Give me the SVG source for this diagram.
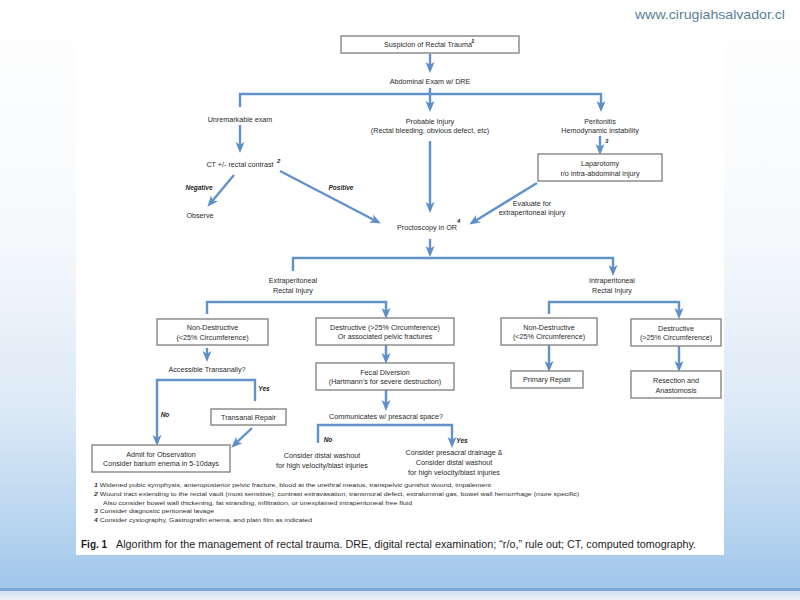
<svg xmlns="http://www.w3.org/2000/svg" width="800" height="600" viewBox="0 0 800 600">
<defs>
<linearGradient id="bg" x1="0" y1="0" x2="0" y2="1">
<stop offset="0" stop-color="#ffffff"/>
<stop offset="0.4" stop-color="#f6f9fc"/>
<stop offset="0.7" stop-color="#dce9f6"/>
<stop offset="0.9" stop-color="#b6d4ef"/>
<stop offset="1" stop-color="#a0c6ea"/>
</linearGradient>
<linearGradient id="foot" x1="0" y1="0" x2="0" y2="1">
<stop offset="0" stop-color="#cfe0f0"/>
<stop offset="1" stop-color="#eef3f8"/>
</linearGradient>
<marker id="ah" markerUnits="userSpaceOnUse" markerWidth="11" markerHeight="11" refX="6" refY="5.5" orient="auto">
<path d="M0,1 L11,5.5 L0,10 L2.8,5.5 z" fill="#5f8fc8"/>
</marker>
<style>
.c{fill:none;stroke:#6292ca;stroke-width:2.4;marker-end:url(#ah)}
.b{fill:#ffffff;stroke:#858585;stroke-width:1.4}
.t{font-family:"Liberation Sans",Arial,sans-serif;font-size:7.2px;fill:#2a2a2a;text-anchor:middle}
.bi{font-family:"Liberation Sans",Arial,sans-serif;font-size:6.5px;fill:#1e1e1e;font-weight:bold;font-style:italic;text-anchor:middle}
.sup{font-family:"Liberation Sans",Arial,sans-serif;font-size:6px;fill:#1e1e1e;font-weight:bold;font-style:italic}
.fn{font-family:"Liberation Sans",Arial,sans-serif;font-size:6px;fill:#2e2e2e}
.cap{font-family:"Liberation Sans",Arial,sans-serif;font-size:10px;fill:#1e1e1e}
</style>
</defs>
<rect x="0" y="0" width="800" height="588" fill="url(#bg)"/>
<rect x="0" y="588" width="800" height="3" fill="#7aa6d4"/>
<rect x="0" y="591" width="800" height="9" fill="url(#foot)"/>
<rect x="76" y="26" width="648" height="529" fill="#ffffff"/>
<text x="785" y="19" text-anchor="end" font-family="Liberation Sans, Arial, sans-serif" font-size="13" fill="#5b7e98" textLength="150" lengthAdjust="spacingAndGlyphs">www.cirugiahsalvador.cl</text>

<g id="connectors">
<path class="c" d="M430,54 V68"/>
<path class="c" d="M240,107 V94 H601 V107"/>
<path class="c" d="M430,88 V107"/>
<path class="c" d="M240,125 V148"/>
<path class="c" d="M600,136 V150"/>
<path class="c" d="M430,141 V208"/>
<path class="c" d="M234,175 L210.6,203"/>
<path class="c" d="M280,171 L376.5,221.2"/>
<path class="c" d="M537,183 L473.4,221.9"/>
<path class="c" d="M430,239 V252"/>
<path class="c" d="M293,271 V258 H613 V271"/>
<path class="c" d="M207,314 V302 H386 V314"/>
<path class="c" d="M549,314 V302 H679 V314"/>
<path class="c" d="M549,345 V367"/>
<path class="c" d="M679,346 V367"/>
<path class="c" d="M207,348 V357"/>
<path class="c" d="M255,401 V380 H157 V441"/>
<path class="c" d="M252,428 L234.9,444.2"/>
<path class="c" d="M386,345 V359"/>
<path class="c" d="M386,390 V406"/>
<path class="c" d="M318,443 V425 H452 V443"/>
</g>

<g id="n-suspicion">
<rect class="b" x="341" y="36" width="178" height="17"/>
<text class="t" x="428" y="47">Suspicion of Rectal Trauma</text>
<text class="sup" x="471" y="43">1</text>
</g>
<g id="n-abdominal"><text class="t" x="430" y="84">Abdominal Exam w/ DRE</text></g>
<g id="n-unremarkable"><text class="t" x="240" y="122">Unremarkable exam</text></g>
<g id="n-probable">
<text class="t" x="430" y="123.5">Probable Injury</text>
<text class="t" x="430" y="133">(Rectal bleeding, obvious defect, etc)</text>
</g>
<g id="n-peritonitis">
<text class="t" x="600" y="123.5">Peritonitis</text>
<text class="t" x="600" y="133">Hemodynamic instability</text>
<text class="sup" x="605" y="143">3</text>
</g>
<g id="n-ct">
<text class="t" x="240" y="167">CT +/- rectal contrast</text>
<text class="sup" x="277" y="163">2</text>
</g>
<g id="n-laparotomy">
<rect class="b" x="538" y="154" width="124" height="27"/>
<text class="t" x="600" y="166">Laparotomy</text>
<text class="t" x="600" y="175.5">r/o intra-abdominal injury</text>
</g>
<g id="l-negative"><text class="bi" x="199" y="189.5">Negative</text></g>
<g id="l-positive"><text class="bi" x="341" y="189.5">Positive</text></g>
<g id="n-observe"><text class="t" x="200" y="218">Observe</text></g>
<g id="l-evaluate">
<text class="t" x="532" y="205.5">Evaluate for</text>
<text class="t" x="532" y="215">extraperitoneal injury</text>
</g>
<g id="n-proctoscopy">
<text class="t" x="427" y="229.5">Proctoscopy in OR</text>
<text class="sup" x="457" y="223">4</text>
</g>
<g id="n-extra">
<text class="t" x="293" y="283">Extraperitoneal</text>
<text class="t" x="293" y="292.5">Rectal Injury</text>
</g>
<g id="n-intra">
<text class="t" x="612" y="283">Intraperitoneal</text>
<text class="t" x="612" y="292.5">Rectal Injury</text>
</g>
<g id="n-nd-left">
<rect class="b" x="157" y="319" width="111" height="26"/>
<text class="t" x="212.5" y="330">Non-Destructive</text>
<text class="t" x="212.5" y="339.5">(&lt;25% Circumference)</text>
</g>
<g id="n-d-left">
<rect class="b" x="316" y="318" width="138" height="27"/>
<text class="t" x="385" y="329.5">Destructive (&gt;25% Circumference)</text>
<text class="t" x="385" y="339">Or associated pelvic fractures</text>
</g>
<g id="n-nd-right">
<rect class="b" x="501" y="318" width="96" height="27"/>
<text class="t" x="549" y="329.5">Non-Destructive</text>
<text class="t" x="549" y="339">(&lt;25% Circumference)</text>
</g>
<g id="n-d-right">
<rect class="b" x="631" y="319" width="90" height="27"/>
<text class="t" x="676" y="330.5">Destructive</text>
<text class="t" x="676" y="340">(&gt;25% Circumference)</text>
</g>
<g id="n-primary">
<rect class="b" x="511" y="371" width="72" height="17"/>
<text class="t" x="547" y="382">Primary Repair</text>
</g>
<g id="n-resection">
<rect class="b" x="631" y="371" width="90" height="27"/>
<text class="t" x="676" y="383">Resection and</text>
<text class="t" x="676" y="392.5">Anastomosis</text>
</g>
<g id="n-accessible"><text class="t" x="207" y="371.5">Accessible Transanally?</text></g>
<g id="l-yes1"><text class="bi" x="264" y="391">Yes</text></g>
<g id="l-no1"><text class="bi" x="165" y="417">No</text></g>
<g id="n-transanal">
<rect class="b" x="211" y="409" width="75" height="16"/>
<text class="t" x="248.5" y="419.5">Transanal Repair</text>
</g>
<g id="n-admit">
<rect class="b" x="92" y="445" width="138" height="27"/>
<text class="t" x="161" y="456.5">Admit for Observation</text>
<text class="t" x="161" y="466">Consider barium enema in 5-10days</text>
</g>
<g id="n-fecal">
<rect class="b" x="316" y="363" width="138" height="27"/>
<text class="t" x="385" y="374.5">Fecal Diversion</text>
<text class="t" x="385" y="384">(Hartmann’s for severe destruction)</text>
</g>
<g id="n-communicates"><text class="t" x="386" y="418.5">Communicates w/ presacral space?</text></g>
<g id="l-no2"><text class="bi" x="328" y="441.5">No</text></g>
<g id="l-yes2"><text class="bi" x="462" y="442.5">Yes</text></g>
<g id="n-washout">
<text class="t" x="322" y="458">Consider distal washout</text>
<text class="t" x="322" y="467.5">for high velocity/blast injuries</text>
</g>
<g id="n-drainage">
<text class="t" x="454" y="455">Consider presacral drainage &amp;</text>
<text class="t" x="454" y="464.5">Consider distal washout</text>
<text class="t" x="454" y="474.5">for high velocity/blast injuries</text>
</g>

<g id="footnotes">
<text class="fn" x="94" y="487" textLength="397" lengthAdjust="spacingAndGlyphs"><tspan font-weight="bold" font-style="italic">1</tspan> Widened pubic symphysis, anteroposterior pelvic fracture, blood at the urethral meatus, transpelvic gunshot wound, impalement</text>
<text class="fn" x="94" y="496" textLength="485" lengthAdjust="spacingAndGlyphs"><tspan font-weight="bold" font-style="italic">2</tspan> Wound tract extending to the rectal vault (most sensitive); contrast extravasation, transmural defect, extraluminal gas, bowel wall hemorrhage (more specific)</text>
<text class="fn" x="103" y="504.5" textLength="309" lengthAdjust="spacingAndGlyphs">Also consider bowel wall thickening, fat stranding, infiltration, or unexplained intraperitoneal free fluid</text>
<text class="fn" x="94" y="513" textLength="120" lengthAdjust="spacingAndGlyphs"><tspan font-weight="bold" font-style="italic">3</tspan> Consider diagnostic peritoneal lavage</text>
<text class="fn" x="94" y="522" textLength="218" lengthAdjust="spacingAndGlyphs"><tspan font-weight="bold" font-style="italic">4</tspan> Consider cystography, Gastrografin enema, and plain film as indicated</text>
</g>
<g id="caption">
<text class="cap" x="81" y="548" font-weight="bold">Fig. 1</text>
<text class="cap" x="116" y="548" textLength="580" lengthAdjust="spacingAndGlyphs">Algorithm for the management of rectal trauma. DRE, digital rectal examination; “r/o,” rule out; CT, computed tomography.</text>
</g>
</svg>
